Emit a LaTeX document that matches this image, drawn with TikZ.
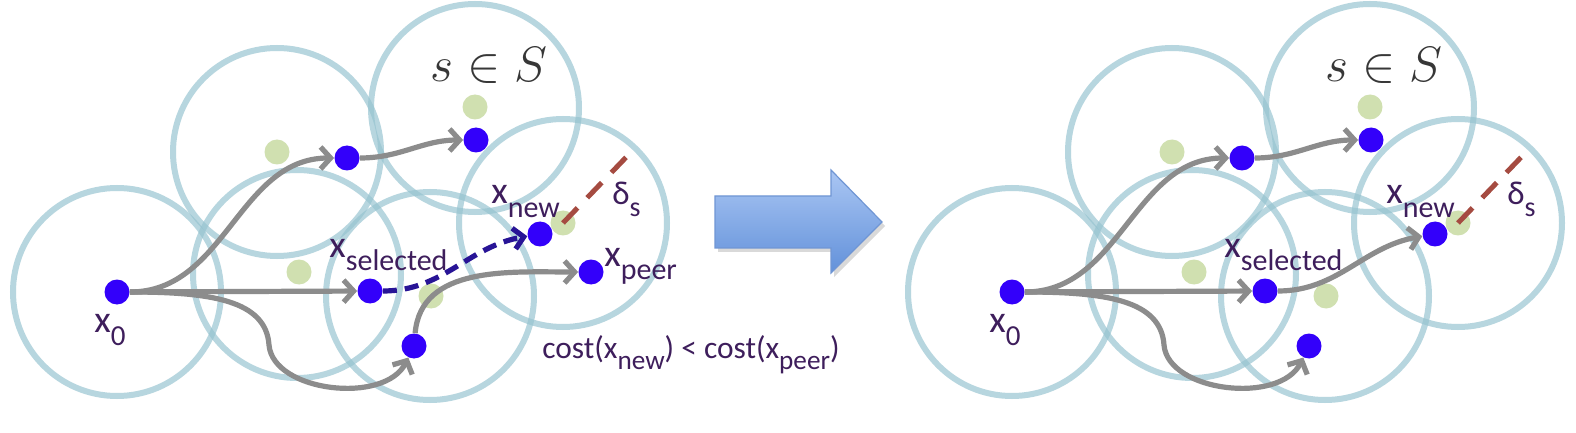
\documentclass[tikz,border=0pt]{standalone}
\usepackage[no-math]{fontspec}
\setmainfont{Carlito}
\usetikzlibrary{arrows.meta}
\definecolor{circ}{RGB}{150,195,208}
\definecolor{gdot}{RGB}{208,224,176}
\definecolor{bdot}{RGB}{51,0,250}
\definecolor{lab}{RGB}{62,30,92}
\definecolor{garr}{RGB}{140,140,140}
\definecolor{darr}{RGB}{40,20,150}
\definecolor{delt}{RGB}{165,75,65}
\definecolor{sgray}{RGB}{55,55,55}
\definecolor{bigtop}{RGB}{170,198,243}
\definecolor{bigbot}{RGB}{98,145,218}
\definecolor{bigline}{RGB}{112,150,212}
\newcommand\lsub[2]{\raisebox{-0.36em}{\fontsize{#1}{#1}\selectfont #2}}
\tikzset{
 ring/.style={draw=circ, draw opacity=0.68, line width=3pt},
 gd/.style={circle, fill=gdot, inner sep=0pt, minimum size=12.5pt},
 bd/.style={circle, fill=bdot, inner sep=0pt, minimum size=12.5pt},
 garrow/.style={draw=garr, line width=2.6pt, -{Straight Barb[length=5pt,width=11pt]}},
 dasharrow/.style={draw=darr, line width=2.6pt, dash pattern=on 7pt off 4pt, -{Straight Barb[length=5pt,width=10.5pt]}},
 dline/.style={draw=delt, line width=2.5pt, dash pattern=on 10.5pt off 7pt},
 xlab/.style={text=lab, font=\fontsize{19}{19}\selectfont, anchor=base west, inner sep=0pt},
 dlab/.style={text=lab, font=\fontsize{16.5}{16.5}\selectfont, anchor=base west, inner sep=0pt},
 slab/.style={text=sgray, font=\fontsize{23}{23}\selectfont, anchor=base west, inner sep=0pt},
 clab/.style={text=lab, font=\fontsize{15.7}{15.7}\selectfont, anchor=base west, inner sep=0pt},
}
\newcommand\panel[2]{%
\begin{scope}[xshift=#2*0.5pt]
 \draw[ring] (117,292) circle[radius=52pt];
 \draw[ring] (277,152) circle[radius=52pt];
 \draw[ring] (297,274) circle[radius=52pt];
 \draw[ring] (430,296) circle[radius=52pt];
 \draw[ring] (475,108) circle[radius=52pt];
 \draw[ring] (563,223) circle[radius=52pt];
 \node[gd] (#1g1) at (277,152) {};
 \node[gd] (#1g2) at (299,272) {};
 \node[gd] (#1g3) at (431,296) {};
 \node[gd] (#1g4) at (475,107) {};
 \node[gd] (#1g5) at (563,223) {};
 \node[bd] (#1x0) at (117,292) {};
 \node[bd] (#1n1) at (347,158) {};
 \node[bd] (#1n2) at (476,140) {};
 \node[bd] (#1xs) at (370,291) {};
 \node[bd] (#1nb) at (414,346) {};
 \node[bd] (#1xn) at (540,234) {};
 \draw[garrow] (#1x0) to[out=0,in=180] (#1n1);
 \draw[garrow] (#1n1) to[out=0,in=180] (#1n2);
 \draw[garrow] (#1x0) -- (#1xs);
 \coordinate (#1m) at (269,345);
 \draw[garrow] (#1x0) .. controls (210,292) and (266,300) .. (#1m) .. controls (273,392) and (385,405) .. (#1nb);
 \coordinate (#1dend) at (635,148);
 \draw[dline] (#1g5.center) -- (#1dend);
 \node[xlab] (#1lx0) at (94,332) {x\lsub{14.5}{0}};
 \node[xlab] (#1lxs) at (329,257) {x\lsub{15}{selected}};
 \node[xlab] (#1lxn) at (491,204) {x\lsub{15}{new}};
 \node[dlab] (#1ld) at (612,205) {δ\lsub{14}{s}};
 \node[slab] (#1ls) at (430,82) {$s\in S$};
\end{scope}}
\begin{document}
\begin{tikzpicture}[x=0.5pt,y=-0.5pt]
\useasboundingbox (0,0) rectangle (1576,433);
\fill[white] (0,0) rectangle (1576,433);
\panel{L}{0}
\panel{R}{895}
% left-only parts
\node[bd] (Lxp) at (591,272) {};
\draw[garrow] (Lnb) to[out=85,in=180] (Lxp);
\draw[dasharrow] (Lxs) to[out=0,in=190] (Lxn);
\node[xlab] (Llxp) at (604,266) {x\lsub{15}{peer}};
\node[clab] (Lcost) at (542,358) {cost(x\lsub{13.6}{new}) < cost(x\lsub{13.6}{peer})};
% right-only parts
\draw[garrow] (Rxs) to[out=0,in=190] (Rxn);
% big arrow
\fill[black, opacity=0.15] (718,200) -- (834,200) -- (834,174) -- (885,226) -- (834,277) -- (834,252) -- (718,252) -- cycle;
\shade[top color=bigtop, bottom color=bigbot, draw=bigline, line width=0.6pt] (715,196) -- (831,196) -- (831,170) -- (882,222) -- (831,273) -- (831,248) -- (715,248) -- cycle;
\end{tikzpicture}
\end{document}
